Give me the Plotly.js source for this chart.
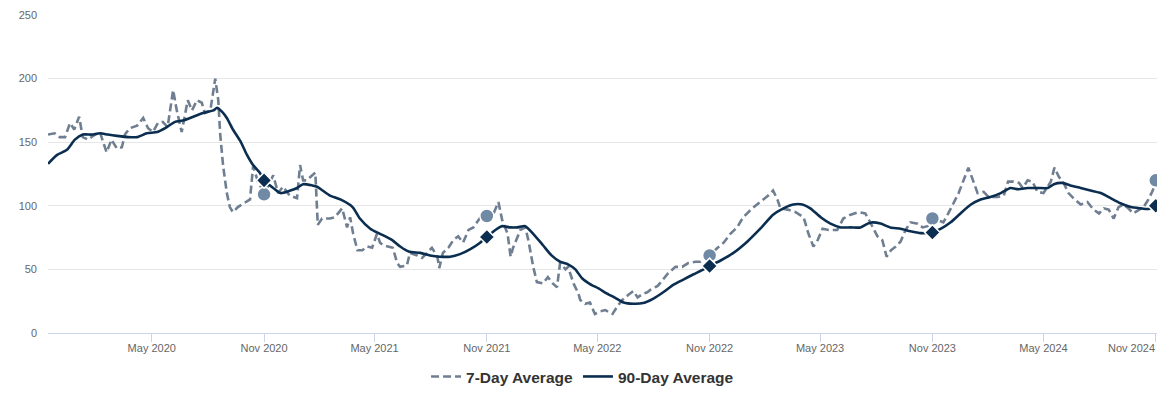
<!DOCTYPE html>
<html>
<head>
<meta charset="utf-8">
<script src="https://cdn.plot.ly/plotly-3.0.1.min.js"></script>
<style>
  html, body { margin: 0; padding: 0; background: #fff; }
  #chart { width: 1173px; height: 393px; }
</style>
</head>
<body>
<div id="chart"></div>
<script>
const dates7 = [
'2019-11-13','2019-11-24','2019-12-02','2019-12-11','2019-12-19','2019-12-26','2020-01-03','2020-01-09','2020-01-18','2020-01-26',
'2020-02-06','2020-02-17','2020-02-25','2020-03-05','2020-03-13','2020-03-18','2020-03-26','2020-04-07','2020-04-17','2020-04-25',
'2020-05-03','2020-05-11','2020-05-19','2020-05-27','2020-06-05','2020-06-11','2020-06-19','2020-06-24','2020-06-29','2020-07-06',
'2020-07-14','2020-07-22','2020-07-27','2020-08-05','2020-08-13','2020-08-18','2020-08-21','2020-08-26','2020-09-01','2020-09-06',
'2020-09-11','2020-09-19','2020-10-01','2020-10-09','2020-10-14','2020-10-22','2020-10-30','2020-11-01','2020-11-16','2020-11-24',
'2020-12-02','2020-12-13','2020-12-25','2020-12-30','2021-01-04','2021-01-10','2021-01-19','2021-01-24','2021-01-28','2021-02-04',
'2021-02-17','2021-02-25','2021-03-09','2021-03-17','2021-03-22','2021-03-27','2021-04-03','2021-04-11','2021-04-19','2021-04-27',
'2021-05-05','2021-05-10','2021-05-15','2021-05-23','2021-05-31','2021-06-07','2021-06-12','2021-06-23','2021-06-28','2021-07-10',
'2021-07-18','2021-07-26','2021-08-03','2021-08-12','2021-08-15','2021-08-21','2021-08-30','2021-09-07','2021-09-15','2021-09-23',
'2021-10-02','2021-10-10','2021-10-21','2021-10-26','2021-11-01','2021-11-12','2021-11-20','2021-11-26','2021-12-05','2021-12-10',
'2021-12-14','2021-12-21','2021-12-26','2022-01-03','2022-01-08','2022-01-16','2022-01-22','2022-02-01','2022-02-09','2022-02-17',
'2022-02-24','2022-03-01','2022-03-10','2022-03-14','2022-03-23','2022-03-31','2022-04-03','2022-04-11','2022-04-19','2022-04-27',
'2022-05-06','2022-05-14','2022-05-26','2022-06-03','2022-06-11','2022-06-21','2022-06-29','2022-07-06','2022-07-15','2022-07-22',
'2022-07-27','2022-08-08','2022-08-17','2022-08-25','2022-09-06','2022-09-17','2022-09-27','2022-10-09','2022-10-17','2022-11-01',
'2022-11-14','2022-11-24','2022-12-05','2022-12-16','2022-12-26','2023-01-10','2023-01-23','2023-02-05','2023-02-13','2023-02-20',
'2023-02-25','2023-03-09','2023-03-22','2023-04-04','2023-04-12','2023-04-20','2023-04-27','2023-05-05','2023-05-15','2023-05-29',
'2023-06-08','2023-06-20','2023-07-03','2023-07-14','2023-07-20','2023-08-03','2023-08-11','2023-08-18','2023-08-25','2023-09-02',
'2023-09-10','2023-09-18','2023-09-26','2023-10-08','2023-10-16','2023-10-24','2023-11-01','2023-11-19','2023-11-27','2023-12-06',
'2023-12-14','2023-12-22','2023-12-30','2024-01-08','2024-01-14','2024-01-24','2024-02-01','2024-02-16','2024-02-26','2024-03-04',
'2024-03-13','2024-03-22','2024-03-28','2024-04-05','2024-04-13','2024-04-21','2024-05-01','2024-05-13','2024-05-19','2024-05-26',
'2024-06-03','2024-06-11','2024-06-19','2024-07-01','2024-07-12','2024-07-22','2024-07-31','2024-08-08','2024-08-16','2024-08-24',
'2024-09-01','2024-09-09','2024-09-17','2024-09-25','2024-10-04','2024-10-12','2024-10-20','2024-10-27','2024-11-01'
];
const avg7 = [
156,157,154,154,165,160,170,154,152,155,
158,142,152,145,146,156,161,163,169,161,
158,165,166,162,191,175,158,171,183,175,
183,181,173,175,200,183,157,131,110,99,
95,99,103,105,131,119,112,109,124,110,
115,108,106,132,120,120,124,126,85,90,
90,91,98,83,91,78,65,65,68,67,
78,71,69,68,67,55,52,53,63,61,
59,63,67,60,51,63,67,73,76,71,
81,83,90,94,92,94,103,89,78,60,
67,76,81,83,73,52,40,39,44,39,
36,55,50,52,39,31,26,23,24,15,
17,18,15,21,26,30,33,28,31,32,
34,37,42,47,52,52,55,56,56,61,
67,71,78,83,91,98,103,108,112,105,
98,97,95,91,78,68,73,82,81,81,
90,93,95,94,89,76,73,60,65,68,
72,81,87,86,83,84,90,87,94,103,
110,120,130,118,110,111,107,107,108,119,
119,118,114,120,119,111,110,119,130,123,
118,110,106,101,103,97,94,98,97,90,
99,101,98,94,97,99,105,112,120
];
const dates90 = [
'2019-11-13','2019-11-28','2019-12-14','2019-12-27','2020-01-09','2020-01-24','2020-02-06','2020-02-19','2020-03-05','2020-03-23',
'2020-04-07','2020-04-23','2020-05-10','2020-05-23','2020-06-08','2020-06-21','2020-07-08','2020-07-24','2020-08-10','2020-08-16',
'2020-08-24','2020-09-01','2020-09-11','2020-09-23','2020-10-04','2020-10-14','2020-10-25','2020-11-01','2020-11-16','2020-11-28',
'2020-12-14','2020-12-25','2021-01-04','2021-01-19','2021-01-27','2021-02-05','2021-02-17','2021-03-06','2021-03-26','2021-04-07',
'2021-04-24','2021-05-10','2021-05-30','2021-06-12','2021-06-26','2021-07-15','2021-07-31','2021-08-16','2021-09-02','2021-09-18',
'2021-10-05','2021-10-21','2021-11-01','2021-11-15','2021-11-26','2021-12-09','2021-12-21','2022-01-03','2022-01-16','2022-02-01',
'2022-02-15','2022-03-01','2022-03-14','2022-03-26','2022-04-06','2022-04-19','2022-05-03','2022-05-17','2022-05-31','2022-06-13',
'2022-06-29','2022-07-15','2022-08-01','2022-08-17','2022-09-03','2022-09-19','2022-10-05','2022-10-22','2022-11-01','2022-11-19',
'2022-12-10','2023-01-02','2023-01-23','2023-02-13','2023-03-02','2023-03-18','2023-04-02','2023-04-15','2023-05-02','2023-05-18',
'2023-06-04','2023-06-20','2023-07-06','2023-07-18','2023-07-26','2023-08-08','2023-08-24','2023-09-10','2023-09-26','2023-10-13',
'2023-11-01','2023-11-15','2023-12-01','2023-12-17','2024-01-03','2024-01-19','2024-02-04','2024-02-21','2024-03-08','2024-03-21',
'2024-04-05','2024-04-22','2024-05-08','2024-05-18','2024-06-01','2024-06-14','2024-07-01','2024-07-17','2024-08-03','2024-08-19',
'2024-09-04','2024-09-21','2024-10-07','2024-10-20','2024-11-01'
];
const avg90 = [
133,140,144,152,156,156,157,156,155,154,
154,157,158,161,166,167,170,173,175,177,
174,169,160,151,140,132,126,120,114,110,
112,114,117,116,115,112,108,105,99,90,
82,78,73,68,64,63,61,60,60,62,
66,71,75.5,81,84,83,83,84,78,69,
61,56,54,50,43,38.5,35,31,27.5,24,
23,23.5,27,32,38,42,46,50,52.7,57,
63,72,82,93,98,101,101,98,91,86,
83,83,83,86,87,86,83,82,80,78.5,
79,82,87,94,101,105,107,110,114,113,
114,114,114,117,118,116,114,112,110,106,
102,99,98,97.5,100
];
const markerDates = ['2020-11-01','2021-11-01','2022-11-01','2023-11-01','2024-11-01'];
const marker7 = [109, 92, 61, 90, 120];
const marker90 = [120, 75.5, 52.7, 79, 100];

const tickDates = ['2020-05-01','2020-11-01','2021-05-01','2021-11-01','2022-05-01','2022-11-01','2023-05-01','2023-11-01','2024-05-01','2024-11-01'];
const tickLabels = ['May 2020','Nov 2020','May 2021','Nov 2021','May 2022','Nov 2022','May 2023','Nov 2023','May 2024','Nov 2024'];

const navy = '#0b2e50';
const grey = '#6f7f91';

const traces = [
  { x: dates7, y: avg7, type: 'scatter', mode: 'lines', name: '7-Day Average',
    line: { color: grey, width: 2.6, dash: '8px,4px' }, hoverinfo: 'x+y' },
  { x: dates90, y: avg90, type: 'scatter', mode: 'lines', name: '90-Day Average',
    line: { color: navy, width: 2.6, shape: 'spline', smoothing: 0.6 }, hoverinfo: 'x+y' },
  { x: markerDates, y: marker7, type: 'scatter', mode: 'markers', showlegend: false,
    marker: { symbol: 'circle', size: 14, color: '#7089a5', line: { color: '#ffffff', width: 1.5 } } },
  { x: markerDates, y: marker90, type: 'scatter', mode: 'markers', showlegend: false,
    marker: { symbol: 'diamond', size: 12, color: navy, line: { color: '#ffffff', width: 1.5 } } }
];

// the last tick label is right-aligned at the plot edge, as in the source
const shownText = tickLabels.map((t, i) => i === tickLabels.length - 1 ? '' : t);

const layout = {
  width: 1173, height: 393,
  margin: { l: 48, r: 16, t: 15, b: 60, autoexpand: false },
  paper_bgcolor: '#ffffff', plot_bgcolor: '#ffffff',
  font: { family: 'Liberation Sans, Arial, sans-serif', color: '#666666', size: 11 },
  showlegend: true,
  legend: {
    orientation: 'h', x: 0.482, xanchor: 'center', y: -0.138, yanchor: 'middle',
    font: { size: 15.5, color: '#333333', family: 'Liberation Sans, Arial, sans-serif', weight: 'bold' },
    itemwidth: 30, tracegroupgap: 0
  },
  xaxis: {
    type: 'date',
    range: ['2019-11-13', '2024-11-03'],
    tickmode: 'array', tickvals: tickDates, ticktext: shownText,
    showgrid: false, showline: true, linecolor: '#ccd6eb', linewidth: 1,
    ticks: 'outside', ticklen: 8, tickcolor: '#ccd6eb',
    ticklabelstandoff: -3,
    tickfont: { size: 11, color: '#666666' },
    zeroline: false, fixedrange: true
  },
  yaxis: {
    range: [0, 250], dtick: 50, tick0: 0,
    showgrid: true, gridcolor: '#e6e6e6', gridwidth: 1,
    showline: false, zeroline: false, ticks: '',
    ticklabelstandoff: 10,
    tickfont: { size: 11, color: '#666666' },
    fixedrange: true
  },
  annotations: [{
    x: '2024-11-03', xref: 'x', xanchor: 'right',
    y: -0.047, yref: 'paper', yanchor: 'middle',
    text: tickLabels[tickLabels.length - 1], showarrow: false,
    font: { size: 11, color: '#666666' }
  }],
  hovermode: 'x'
};

Plotly.newPlot('chart', traces, layout, { displayModeBar: false });
</script>
</body>
</html>
